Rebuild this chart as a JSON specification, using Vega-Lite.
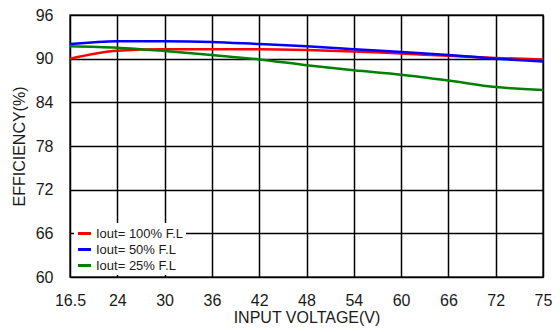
{
  "$schema": "https://vega.github.io/schema/vega-lite/v6.json",
  "width": 473,
  "height": 262,
  "autosize": {"type": "none"},
  "padding": {"left": 70, "top": 15, "right": 17, "bottom": 55},
  "background": "white",
  "config": {
    "font": "Liberation Sans",
    "view": {"stroke": "#333333", "strokeWidth": 1.5},
    "axis": {
      "labelFont": "Liberation Sans",
      "titleFont": "Liberation Sans",
      "labelFontSize": 16,
      "titleFontSize": 16,
      "titleFontWeight": "normal",
      "labelColor": "#1a1a1a",
      "titleColor": "#1a1a1a",
      "grid": true,
      "gridColor": "#000000",
      "gridWidth": 1.5,
      "gridOpacity": 1,
      "ticks": false,
      "domain": false
    }
  },
  "data": {
    "values": [
      {"v": "16.5", "s": "Iout= 100% F.L", "e": 90.0},
      {"v": "24", "s": "Iout= 100% F.L", "e": 91.1},
      {"v": "30", "s": "Iout= 100% F.L", "e": 91.3},
      {"v": "36", "s": "Iout= 100% F.L", "e": 91.3},
      {"v": "42", "s": "Iout= 100% F.L", "e": 91.3},
      {"v": "48", "s": "Iout= 100% F.L", "e": 91.2},
      {"v": "54", "s": "Iout= 100% F.L", "e": 91.0},
      {"v": "60", "s": "Iout= 100% F.L", "e": 90.7},
      {"v": "66", "s": "Iout= 100% F.L", "e": 90.4},
      {"v": "72", "s": "Iout= 100% F.L", "e": 90.1},
      {"v": "75", "s": "Iout= 100% F.L", "e": 89.9},
      {"v": "16.5", "s": "Iout= 50% F.L", "e": 92.0},
      {"v": "24", "s": "Iout= 50% F.L", "e": 92.4},
      {"v": "30", "s": "Iout= 50% F.L", "e": 92.4},
      {"v": "36", "s": "Iout= 50% F.L", "e": 92.3},
      {"v": "42", "s": "Iout= 50% F.L", "e": 92.0},
      {"v": "48", "s": "Iout= 50% F.L", "e": 91.7},
      {"v": "54", "s": "Iout= 50% F.L", "e": 91.3},
      {"v": "60", "s": "Iout= 50% F.L", "e": 90.9},
      {"v": "66", "s": "Iout= 50% F.L", "e": 90.5},
      {"v": "72", "s": "Iout= 50% F.L", "e": 90.0},
      {"v": "75", "s": "Iout= 50% F.L", "e": 89.6},
      {"v": "16.5", "s": "Iout= 25% F.L", "e": 91.7},
      {"v": "24", "s": "Iout= 25% F.L", "e": 91.5},
      {"v": "30", "s": "Iout= 25% F.L", "e": 91.05},
      {"v": "36", "s": "Iout= 25% F.L", "e": 90.5},
      {"v": "42", "s": "Iout= 25% F.L", "e": 89.9},
      {"v": "48", "s": "Iout= 25% F.L", "e": 89.1},
      {"v": "54", "s": "Iout= 25% F.L", "e": 88.4},
      {"v": "60", "s": "Iout= 25% F.L", "e": 87.8},
      {"v": "66", "s": "Iout= 25% F.L", "e": 87.0},
      {"v": "72", "s": "Iout= 25% F.L", "e": 86.1},
      {"v": "75", "s": "Iout= 25% F.L", "e": 85.7}
    ]
  },
  "mark": {"type": "line", "strokeWidth": 2.5, "interpolate": "monotone"},
  "encoding": {
    "x": {
      "field": "v",
      "type": "ordinal",
      "sort": ["16.5", "24", "30", "36", "42", "48", "54", "60", "66", "72", "75"],
      "scale": {"type": "point", "padding": 0},
      "axis": {"title": "INPUT VOLTAGE(V)", "labelAngle": 0, "labelPadding": 15, "titlePadding": 1}
    },
    "y": {
      "field": "e",
      "type": "quantitative",
      "scale": {"domain": [60, 96], "nice": false, "zero": false},
      "axis": {"title": "EFFICIENCY(%)", "values": [60, 66, 72, 78, 84, 90, 96], "labelPadding": 17, "titlePadding": 8}
    },
    "color": {
      "field": "s",
      "type": "nominal",
      "scale": {"domain": ["Iout= 100% F.L", "Iout= 50% F.L", "Iout= 25% F.L"], "range": ["#ff0000", "#0000ff", "#008000"]},
      "legend": {
        "title": null,
        "orient": "none",
        "legendX": 4,
        "legendY": 208,
        "fillColor": "white",
        "padding": 2,
        "symbolType": "stroke",
        "symbolStrokeWidth": 3,
        "symbolSize": 170,
        "labelFontSize": 13,
        "labelFont": "Liberation Sans",
        "labelColor": "#1a1a1a",
        "labelOffset": 3,
        "rowPadding": 0
      }
    }
  }
}
